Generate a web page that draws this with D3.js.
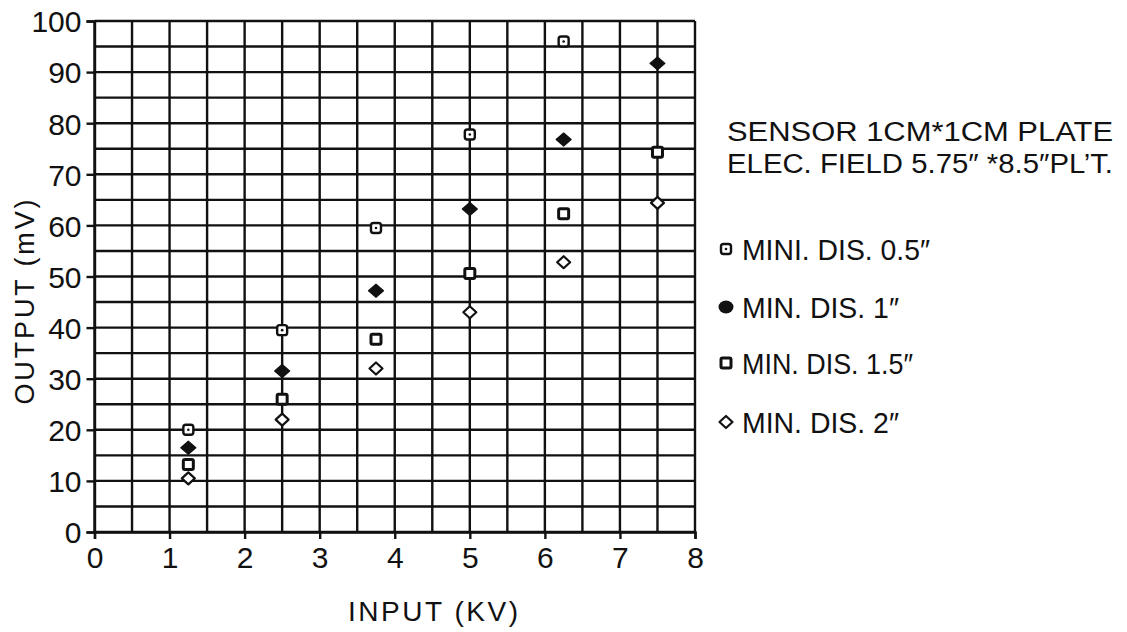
<!DOCTYPE html>
<html>
<head>
<meta charset="utf-8">
<script src="https://cdn.jsdelivr.net/npm/d3@7"></script>
<style>
  body { margin: 0; background: #fff; }
  text { font-family: "Liberation Sans", Arial, sans-serif; fill: #111; }
</style>
</head>
<body>
<script>
// data
var inputKV = [1.25, 2.5, 3.75, 5, 6.25, 7.5];
var dis05 = [20, 39.5, 59.5, 77.8, 96, null];
var dis1 = [16.5, 31.5, 47.2, 63.2, 76.8, 91.7];
var dis15 = [13.2, 26, 37.7, 50.6, 62.3, 74.3];
var dis2 = [10.5, 22, 32, 43, 52.8, 64.4];

var seriesNames = ['MINI. DIS. 0.5\u2033', 'MIN.  DIS. 1\u2033', 'MIN.  DIS. 1.5\u2033', 'MIN.  DIS. 2\u2033'];
var seriesKinds = ['dotSquare', 'fillDiamond', 'square', 'openDiamond'];
var seriesValues = [dis05, dis1, dis15, dis2];

var xTicks = [0, 1, 2, 3, 4, 5, 6, 7, 8];
var yTicks = [0, 10, 20, 30, 40, 50, 60, 70, 80, 90, 100];
var titleLines = ['SENSOR  1CM*1CM  PLATE', 'ELEC. FIELD  5.75\u2033 *8.5\u2033PL\u2019T.'];

var width = 1127, height = 632;
var plot = {left: 94.5, right: 695, top: 21, bottom: 532};

var svg = d3.select('body')
            .append('svg')
            .attr('width', width)
            .attr('height', height);

var x = d3.scaleLinear().domain([0, 8]).range([plot.left, plot.right]);
var y = d3.scaleLinear().domain([0, 100]).range([plot.bottom, plot.top]);

// grid, every half volt and every 5 mV
var grid = svg.append('g').attr('stroke', '#111').attr('stroke-width', 2.4);
grid.selectAll('line.v')
    .data(d3.range(0, 8.01, 0.5))
    .enter().append('line')
    .attr('x1', x).attr('x2', x)
    .attr('y1', plot.top).attr('y2', plot.bottom);
grid.selectAll('line.h')
    .data(d3.range(0, 100.01, 5))
    .enter().append('line')
    .attr('y1', y).attr('y2', y)
    .attr('x1', plot.left).attr('x2', plot.right);

// axes
var xAxis = d3.axisBottom(x).tickValues(xTicks).tickSize(7).tickPadding(6);
var yAxis = d3.axisLeft(y).tickValues(yTicks).tickSize(8).tickPadding(5);

var gx = svg.append('g').attr('transform', 'translate(0,' + plot.bottom + ')').call(xAxis);
var gy = svg.append('g').attr('transform', 'translate(' + plot.left + ',0)').call(yAxis);
[gx, gy].forEach(function(g) {
  g.select('.domain').attr('stroke', '#111').attr('stroke-width', 2.4);
  g.selectAll('.tick line').attr('stroke', '#111').attr('stroke-width', 2.4);
  g.selectAll('.tick text')
   .style('font-family', '"Liberation Sans", Arial, sans-serif')
   .style('font-size', '30px')
   .attr('fill', '#111');
});
gy.selectAll('.tick text').attr('dy', '0.36em');
gx.selectAll('.tick text').attr('dy', '0.78em');

// axis titles
svg.append('text')
   .attr('x', 433).attr('y', 621)
   .attr('text-anchor', 'middle')
   .style('font-size', '28px')
   .attr('textLength', 170)
   .text('INPUT  (KV)');

svg.append('text')
   .attr('transform', 'translate(34,302) rotate(-90)')
   .attr('text-anchor', 'middle')
   .style('font-size', '27px')
   .attr('textLength', 205)
   .text('OUTPUT (mV)');

// markers
function drawMarker(g, kind, cx, cy, legendStyle) {
  if (kind === 'dotSquare') {
    g.append('rect').attr('x', cx - 5).attr('y', cy - 5).attr('width', 10).attr('height', 10)
     .attr('rx', 2.5).attr('fill', '#fff').attr('stroke', '#111').attr('stroke-width', 2.4);
    g.append('circle').attr('cx', cx).attr('cy', cy).attr('r', 1.3).attr('fill', '#111');
  } else if (kind === 'fillDiamond') {
    if (legendStyle) {
      g.append('ellipse').attr('cx', cx).attr('cy', cy).attr('rx', 7.5).attr('ry', 6.5).attr('fill', '#111');
      return;
    }
    g.append('path')
     .attr('d', 'M' + (cx - 7.5) + ',' + cy + 'L' + cx + ',' + (cy - 6.5) + 'L' + (cx + 7.5) + ',' + cy + 'L' + cx + ',' + (cy + 6.5) + 'Z')
     .attr('fill', '#111').attr('stroke', '#111').attr('stroke-width', 1.2).attr('stroke-linejoin', 'round');
  } else if (kind === 'square') {
    g.append('rect').attr('x', cx - 5).attr('y', cy - 5).attr('width', 10).attr('height', 10)
     .attr('rx', 1.5).attr('fill', '#fff').attr('stroke', '#111').attr('stroke-width', 3);
  } else {
    g.append('path')
     .attr('d', 'M' + (cx - 6.5) + ',' + cy + 'L' + cx + ',' + (cy - 6) + 'L' + (cx + 6.5) + ',' + cy + 'L' + cx + ',' + (cy + 6) + 'Z')
     .attr('fill', '#fff').attr('stroke', '#111').attr('stroke-width', 2.2).attr('stroke-linejoin', 'round');
  }
}

var points = svg.append('g');
seriesValues.forEach(function(vals, s) {
  vals.forEach(function(v, i) {
    if (v == null) return;
    drawMarker(points, seriesKinds[s], x(inputKV[i]), y(v));
  });
});

// title block on the right
svg.selectAll('text.title')
   .data(titleLines)
   .enter().append('text')
   .attr('class', 'title')
   .attr('x', 727)
   .attr('y', function(d, i) { return 141 + i * 32; })
   .style('font-size', '27px')
   .attr('textLength', 386)
   .attr('lengthAdjust', 'spacingAndGlyphs')
   .text(function(d) { return d; });

// legend
var legendY = [249, 307, 363, 422];
var legendLen = [188, 157, 171, 157];
var legend = svg.append('g');
seriesNames.forEach(function(name, s) {
  drawMarker(legend, seriesKinds[s], 726, legendY[s], true);
  legend.append('text')
        .attr('x', 742)
        .attr('y', legendY[s] + 11)
        .style('font-size', '29px')
        .attr('textLength', legendLen[s])
        .attr('lengthAdjust', 'spacingAndGlyphs')
        .text(name);
});
</script>
</body>
</html>
